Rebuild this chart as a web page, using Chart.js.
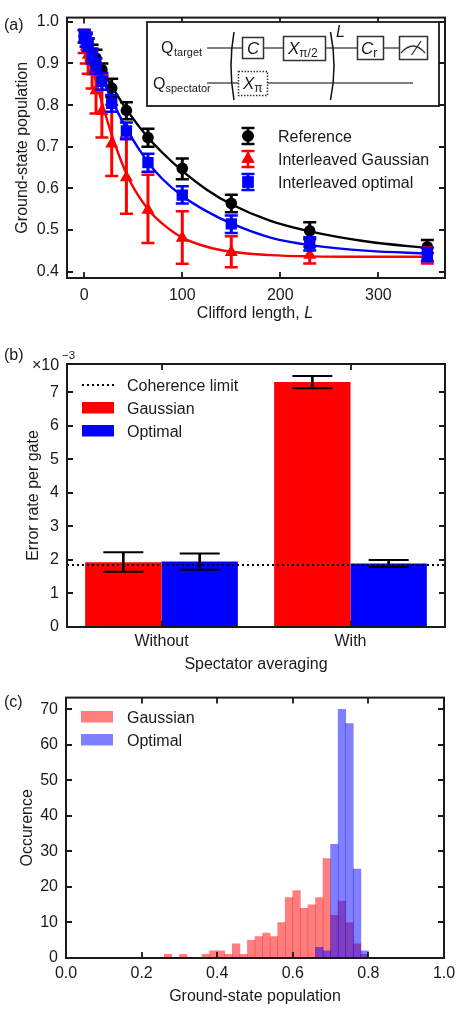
<!DOCTYPE html>
<html>
<head>
<meta charset="utf-8">
<script src="https://cdn.jsdelivr.net/npm/chart.js@4"></script>
<style>
html, body { margin: 0; padding: 0; background: #fff; }
#page { position: relative; width: 470px; height: 1018px; overflow: hidden; }
canvas { position: absolute; left: 0; }
</style>
</head>
<body>
<div id="page">
  <canvas id="panelA" width="470" height="330" style="top:0"></canvas>
  <canvas id="panelB" width="470" height="340" style="top:340px"></canvas>
  <canvas id="panelC" width="470" height="338" style="top:680px"></canvas>
</div>
<script>
const FONT = '"Liberation Sans", Arial, sans-serif';
const INK = '#1a1a1a';

// (a) measured points
const lengths = [0, 2, 4, 8, 12, 18, 28, 43, 65, 100, 150, 230, 350];
const refValues = [0.965, 0.955, 0.945, 0.925, 0.913, 0.885, 0.841, 0.787, 0.722, 0.648, 0.564, 0.498, 0.460];
const refLow = [0.95, 0.94, 0.93, 0.905, 0.893, 0.87, 0.82, 0.766, 0.70, 0.622, 0.543, 0.478, 0.445];
const refHigh = [0.98, 0.97, 0.96, 0.945, 0.933, 0.90, 0.863, 0.807, 0.743, 0.672, 0.585, 0.519, 0.476];
const gaussValues = [0.96, 0.94, 0.92, 0.88, 0.835, 0.785, 0.707, 0.626, 0.548, 0.481, 0.447, 0.44, 0.438];
const gaussLow = [0.925, 0.90, 0.875, 0.84, 0.78, 0.722, 0.63, 0.539, 0.469, 0.419, 0.411, 0.42, 0.42];
const gaussHigh = [0.98, 0.975, 0.96, 0.93, 0.90, 0.873, 0.80, 0.722, 0.633, 0.545, 0.485, 0.46, 0.458];
const optValues = [0.965, 0.957, 0.945, 0.918, 0.893, 0.857, 0.804, 0.738, 0.662, 0.584, 0.515, 0.467, 0.442];
const optLow = [0.95, 0.94, 0.93, 0.90, 0.875, 0.837, 0.784, 0.718, 0.64, 0.564, 0.493, 0.451, 0.425];
const optHigh = [0.98, 0.972, 0.96, 0.936, 0.912, 0.877, 0.824, 0.758, 0.683, 0.605, 0.535, 0.483, 0.457];

// (a) fitted curves
const curveLengths = [0, 5, 10, 20, 30, 45, 65, 80, 100, 125, 150, 190, 230, 290, 350];
const refCurve = [0.97, 0.945, 0.922, 0.878, 0.838, 0.783, 0.722, 0.685, 0.642, 0.597, 0.562, 0.522, 0.497, 0.472, 0.457];
const optCurve = [0.97, 0.94, 0.91, 0.855, 0.803, 0.735, 0.663, 0.622, 0.582, 0.545, 0.516, 0.482, 0.464, 0.45, 0.444];
const gaussCurve = [0.97, 0.925, 0.875, 0.79, 0.715, 0.625, 0.55, 0.515, 0.482, 0.46, 0.448, 0.44, 0.437, 0.436, 0.436];

// (b)
const groups = ['Without', 'With'];
const gaussianRate = [1.93, 7.3];
const gaussianRateLow = [1.65, 7.12];
const gaussianRateHigh = [2.23, 7.48];
const optimalRate = [1.95, 1.89];
const optimalRateLow = [1.71, 1.79];
const optimalRateHigh = [2.19, 2.0];
const coherenceLimit = 1.85;

// (c) bin centres, bin width 0.02
const binCentres = [0.27, 0.29, 0.31, 0.33, 0.35, 0.37, 0.39, 0.41, 0.43, 0.45, 0.47, 0.49, 0.51, 0.53, 0.55, 0.57, 0.59, 0.61, 0.63, 0.65, 0.67, 0.69, 0.71, 0.73, 0.75, 0.77, 0.79];
const gaussianCounts = [1, 0, 1, 0, 0, 1, 2, 2, 1, 4, 1, 5, 6, 7, 6, 10, 17, 19, 14, 15, 17, 28, 12, 16, 10, 4, 1];
const optimalCounts = [0, 0, 0, 0, 0, 0, 0, 0, 0, 0, 0, 0, 0, 0, 0, 0, 0, 0, 0, 0, 3, 2, 32, 70, 66, 25, 2];

function text(ctx, str, x, y, size, opts) {
  opts = opts || {};
  ctx.fillStyle = opts.color || INK;
  ctx.font = (opts.italic ? 'italic ' : '') + size + 'px ' + FONT;
  ctx.textAlign = opts.align || 'left';
  ctx.textBaseline = 'alphabetic';
  ctx.fillText(str, x, y);
  return ctx.measureText(str).width;
}

// frame and inward ticks on all four sides, placed by the chart's scales
const framePlugin = {
  id: 'frame',
  afterDraw(chart) {
    const { ctx, chartArea: a, scales } = chart;
    const len = 6;
    ctx.save();
    ctx.strokeStyle = INK;
    ctx.lineWidth = 1.8;
    ctx.beginPath();
    scales.x.ticks.forEach((t, i) => {
      const px = Math.round(scales.x.getPixelForTick(i));
      ctx.moveTo(px, a.bottom); ctx.lineTo(px, a.bottom - len);
      ctx.moveTo(px, a.top); ctx.lineTo(px, a.top + len);
    });
    scales.y.ticks.forEach((t, i) => {
      const py = Math.round(scales.y.getPixelForTick(i));
      ctx.moveTo(a.left, py); ctx.lineTo(a.left + len, py);
      ctx.moveTo(a.right, py); ctx.lineTo(a.right - len, py);
    });
    ctx.stroke();
    ctx.lineWidth = 2;
    ctx.strokeRect(a.left, a.top, a.right - a.left, a.bottom - a.top);
    ctx.restore();
  }
};

// error bars, drawn right after their own dataset so the stacking follows it
const errorBarPlugin = {
  id: 'errorBars',
  afterDatasetDraw(chart, args) {
    const ds = chart.data.datasets[args.index];
    if (!ds.errLow) return;
    const { ctx, scales } = chart;
    const meta = chart.getDatasetMeta(args.index);
    ctx.save();
    ctx.strokeStyle = ds.errColor;
    meta.data.forEach((el, i) => {
      const top = scales.y.getPixelForValue(ds.errHigh[i]);
      const bot = scales.y.getPixelForValue(ds.errLow[i]);
      const cap = ds.capHalf;
      ctx.lineWidth = ds.stemWidth;
      ctx.beginPath(); ctx.moveTo(el.x, top); ctx.lineTo(el.x, bot); ctx.stroke();
      ctx.lineWidth = ds.capWidth;
      ctx.beginPath();
      ctx.moveTo(el.x - cap, top); ctx.lineTo(el.x + cap, top);
      ctx.moveTo(el.x - cap, bot); ctx.lineTo(el.x + cap, bot);
      ctx.stroke();
    });
    ctx.restore();
  }
};

function box(ctx, x0, y0, x1, y1, dashed) {
  ctx.fillStyle = '#fff';
  ctx.fillRect(x0, y0, x1 - x0, y1 - y0);
  ctx.setLineDash(dashed ? [1.5, 1.5] : []);
  ctx.strokeRect(x0, y0, x1 - x0, y1 - y0);
  ctx.setLineDash([]);
}

function line(ctx, x0, y0, x1, y1) {
  ctx.beginPath(); ctx.moveTo(x0, y0); ctx.lineTo(x1, y1); ctx.stroke();
}

// (a) circuit inset, legend and x title
const panelAExtras = {
  id: 'panelAExtras',
  afterDraw(chart) {
    const ctx = chart.ctx;
    ctx.save();
    ctx.fillStyle = '#fff';
    ctx.fillRect(147, 22, 292, 84);
    ctx.strokeStyle = INK;
    ctx.lineWidth = 1.8;
    ctx.strokeRect(147, 22, 292, 84);

    ctx.strokeStyle = '#555';
    ctx.lineWidth = 1.3;
    line(ctx, 207, 48, 399, 48);
    line(ctx, 207, 83, 413, 83);
    ctx.strokeStyle = '#333';
    ctx.lineWidth = 1.5;
    box(ctx, 242.5, 37.5, 263.5, 58.5);
    box(ctx, 283.5, 36.5, 325.5, 60.5);
    box(ctx, 357.5, 36.5, 383.5, 59.5);
    box(ctx, 399.5, 36.5, 427.5, 59.5);
    box(ctx, 238.5, 71.5, 267.5, 95.5, true);

    // brackets around the repeated block
    ctx.strokeStyle = '#111';
    ctx.beginPath(); ctx.moveTo(234, 32); ctx.quadraticCurveTo(228, 66, 234, 100); ctx.stroke();
    ctx.beginPath(); ctx.moveTo(330.5, 32); ctx.quadraticCurveTo(337.5, 66, 330.5, 100); ctx.stroke();

    // meter
    ctx.strokeStyle = '#333';
    ctx.lineWidth = 1.3;
    ctx.beginPath(); ctx.moveTo(401, 53); ctx.quadraticCurveTo(413, 39, 425, 53); ctx.stroke();
    line(ctx, 411.5, 55, 421, 41);

    text(ctx, 'Q', 161, 53, 16);
    text(ctx, 'target', 174, 56, 11);
    text(ctx, 'Q', 153, 89, 16);
    text(ctx, 'spectator', 165.5, 92, 11);
    text(ctx, 'C', 247, 54, 17, { italic: true });
    let w = text(ctx, 'X', 288, 54, 17, { italic: true });
    text(ctx, 'π/2', 288 + w, 57, 12);
    w = text(ctx, 'C', 361, 54, 17, { italic: true });
    text(ctx, 'r', 361 + w, 57, 12);
    w = text(ctx, 'X', 243, 89, 17, { italic: true });
    text(ctx, 'π', 243 + w, 92, 12);
    text(ctx, 'L', 336, 37, 16, { italic: true });

    // legend
    const names = ['Reference', 'Interleaved Gaussian', 'Interleaved optimal'];
    const colors = ['#000', '#ff0000', '#0000ff'];
    const styles = ['circle', 'triangle', 'rect'];
    const radii = [5.8, 7.5, 8];
    const ys = [136, 159, 182];
    names.forEach((name, i) => {
      ctx.strokeStyle = colors[i];
      ctx.fillStyle = colors[i];
      ctx.lineWidth = 2.5;
      line(ctx, 248, ys[i] - 8, 248, ys[i] + 8);
      line(ctx, 241.5, ys[i] - 8, 254.5, ys[i] - 8);
      line(ctx, 241.5, ys[i] + 8, 254.5, ys[i] + 8);
      Chart.helpers.drawPoint(ctx, { pointStyle: styles[i], radius: radii[i], borderWidth: 0 }, 248, ys[i]);
      ctx.fill();
      text(ctx, name, 278, ys[i] + 5.5, 16);
    });

    text(ctx, '(a)', 4, 30, 16);
    ctx.font = '16px ' + FONT;
    const full = ctx.measureText('Clifford length, ').width + 9;
    const start = 255 - full / 2;
    const used = text(ctx, 'Clifford length, ', start, 318, 16);
    text(ctx, 'L', start + used, 318, 16, { italic: true });
    ctx.restore();
  }
};

// (b) dotted limit, legend and the exponent label
const panelBExtras = {
  id: 'panelBExtras',
  afterDatasetsDraw(chart) {
    const { ctx, chartArea: a, scales } = chart;
    const py = scales.y.getPixelForValue(coherenceLimit);
    ctx.save();
    ctx.strokeStyle = '#000';
    ctx.lineWidth = 2;
    ctx.setLineDash([2, 3]);
    line(ctx, a.left, py, a.right, py);
    ctx.restore();
  },
  afterDraw(chart) {
    const ctx = chart.ctx;
    ctx.save();
    ctx.strokeStyle = '#000';
    ctx.lineWidth = 2;
    ctx.setLineDash([2, 3]);
    line(ctx, 82, 45, 114, 45);
    ctx.setLineDash([]);
    ctx.fillStyle = '#ff0000';
    ctx.fillRect(82, 62, 32, 11.5);
    ctx.fillStyle = '#0000ff';
    ctx.fillRect(82, 85, 32, 11.5);
    text(ctx, 'Coherence limit', 127, 50.5, 16);
    text(ctx, 'Gaussian', 127, 73.5, 16);
    text(ctx, 'Optimal', 127, 96.5, 16);
    text(ctx, '(b)', 4, 20, 16);
    text(ctx, '×10', 32, 29.5, 16);
    text(ctx, '−3', 62, 18.5, 11.5);
    ctx.restore();
  }
};

// (c) legend
const panelCExtras = {
  id: 'panelCExtras',
  afterDraw(chart) {
    const ctx = chart.ctx;
    ctx.save();
    ctx.fillStyle = 'rgba(255,0,0,0.5)';
    ctx.fillRect(81, 31, 32, 11.5);
    ctx.fillStyle = 'rgba(0,0,255,0.5)';
    ctx.fillRect(81, 54, 32, 11.5);
    text(ctx, 'Gaussian', 127, 42.5, 16);
    text(ctx, 'Optimal', 127, 65.5, 16);
    text(ctx, '(c)', 4, 27, 16);
    ctx.restore();
  }
};

function axisBase(extra) {
  return Object.assign({
    grid: { display: false, drawTicks: false },
    border: { display: false },
    ticks: { color: INK, font: { family: FONT, size: 16 }, padding: 8, maxRotation: 0, autoSkip: false }
  }, extra);
}

function fixedY(width) {
  return s => { s.width = width; };
}
function fixedX(height) {
  return s => { s.height = height; };
}

function titled(text, padding) {
  return { display: true, text: text, color: INK, font: { family: FONT, size: 16 }, padding: padding };
}

const baseOptions = {
  responsive: false,
  animation: false,
  devicePixelRatio: 1,
  plugins: { legend: { display: false }, tooltip: { enabled: false } }
};

function curveSet(values, color, order) {
  return {
    type: 'line',
    data: curveLengths.map((x, i) => ({ x: x, y: values[i] })),
    borderColor: color,
    borderWidth: 2.4,
    pointRadius: 0,
    cubicInterpolationMode: 'monotone',
    order: order
  };
}

function pointSet(values, low, high, color, style, radius, order) {
  return {
    type: 'line',
    data: lengths.map((x, i) => ({ x: x, y: values[i] })),
    showLine: false,
    pointStyle: style,
    pointRadius: radius,
    pointBorderWidth: 0,
    pointBackgroundColor: color,
    errLow: low,
    errHigh: high,
    errColor: color,
    capHalf: 6.5,
    stemWidth: 3,
    capWidth: 2.5,
    order: order
  };
}

new Chart(document.getElementById('panelA'), {
  type: 'line',
  data: {
    datasets: [
      pointSet(optValues, optLow, optHigh, '#0000ff', 'rect', 8, 1),
      curveSet(optCurve, '#0000ff', 2),
      pointSet(gaussValues, gaussLow, gaussHigh, '#ff0000', 'triangle', 7.5, 3),
      curveSet(gaussCurve, '#ff0000', 4),
      pointSet(refValues, refLow, refHigh, '#000000', 'circle', 5.8, 5),
      curveSet(refCurve, '#000000', 6)
    ]
  },
  options: Object.assign({}, baseOptions, {
    layout: { padding: { top: 16, right: 25, left: 0, bottom: 0 } },
    scales: {
      x: axisBase({
        type: 'linear', min: -17.6, max: 368,
        afterBuildTicks: s => { s.ticks = [0, 100, 200, 300].map(v => ({ value: v })); },
        afterFit: fixedX(52)
      }),
      y: axisBase({
        min: 0.385, max: 1.01,
        afterBuildTicks: s => { s.ticks = [0.4, 0.5, 0.6, 0.7, 0.8, 0.9, 1.0].map(v => ({ value: v })); },
        ticks: { color: INK, font: { family: FONT, size: 16 }, padding: 8, callback: v => v.toFixed(1) },
        title: titled('Ground-state population', { top: 13, bottom: 0 }),
        afterFit: fixedY(67)
      })
    }
  }),
  plugins: [errorBarPlugin, framePlugin, panelAExtras]
});

new Chart(document.getElementById('panelB'), {
  type: 'bar',
  data: {
    labels: groups,
    datasets: [
      {
        data: gaussianRate, backgroundColor: '#ff0000',
        errLow: gaussianRateLow, errHigh: gaussianRateHigh, errColor: '#000',
        capHalf: 20, stemWidth: 2.7, capWidth: 2
      },
      {
        data: optimalRate, backgroundColor: '#0000ff',
        errLow: optimalRateLow, errHigh: optimalRateHigh, errColor: '#000',
        capHalf: 20, stemWidth: 2.7, capWidth: 2
      }
    ]
  },
  options: Object.assign({}, baseOptions, {
    layout: { padding: { top: 24, right: 25, left: 0, bottom: 0 } },
    datasets: { bar: { barPercentage: 1, categoryPercentage: 0.808 } },
    scales: {
      x: axisBase({
        ticks: { color: INK, font: { family: FONT, size: 16 }, padding: 5 },
        title: titled('Spectator averaging', { top: 0, bottom: 6 }),
        afterFit: fixedX(53)
      }),
      y: axisBase({
        min: 0, max: 7.84,
        afterBuildTicks: s => { s.ticks = [0, 1, 2, 3, 4, 5, 6, 7].map(v => ({ value: v })); },
        title: titled('Error rate per gate', { top: 24, bottom: 0 }),
        afterFit: fixedY(67)
      })
    }
  }),
  plugins: [errorBarPlugin, framePlugin, panelBExtras]
});

new Chart(document.getElementById('panelC'), {
  type: 'bar',
  data: {
    datasets: [
      { data: binCentres.map((x, i) => ({ x: x, y: gaussianCounts[i] })), backgroundColor: 'rgba(255,0,0,0.5)', grouped: false, order: 2 },
      { data: binCentres.map((x, i) => ({ x: x, y: optimalCounts[i] })), backgroundColor: 'rgba(0,0,255,0.5)', grouped: false, order: 1 }
    ]
  },
  options: Object.assign({}, baseOptions, {
    layout: { padding: { top: 16, right: 26, left: 0, bottom: 0 } },
    datasets: { bar: { barPercentage: 1, categoryPercentage: 1 } },
    scales: {
      x: axisBase({
        type: 'linear', min: 0, max: 1, offset: false,
        afterBuildTicks: s => { s.ticks = [0, 0.2, 0.4, 0.6, 0.8, 1].map(v => ({ value: v })); },
        ticks: { color: INK, font: { family: FONT, size: 16 }, padding: 5.5, callback: v => v.toFixed(1) },
        title: titled('Ground-state population', { top: 0, bottom: 12 }),
        afterFit: fixedX(60)
      }),
      y: axisBase({
        min: 0, max: 73.3,
        afterBuildTicks: s => { s.ticks = [0, 10, 20, 30, 40, 50, 60, 70].map(v => ({ value: v })); },
        title: titled('Occurence', { top: 18, bottom: 0 }),
        afterFit: fixedY(66)
      })
    }
  }),
  plugins: [framePlugin, panelCExtras]
});
</script>
</body>
</html>
